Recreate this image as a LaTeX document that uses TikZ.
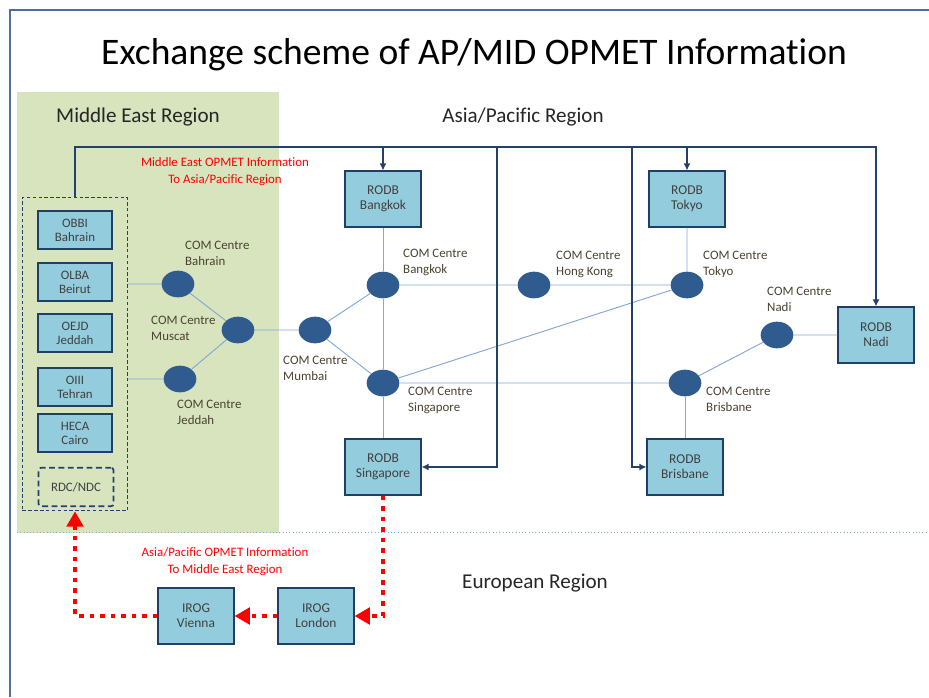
\documentclass[tikz,border=0pt]{standalone}
\usepackage{fontspec}
\setmainfont{Carlito}[Ligatures=NoCommon]
\usetikzlibrary{arrows.meta, positioning, shapes.geometric}

\definecolor{megreen}{HTML}{D7E4BD}
\definecolor{boxfill}{HTML}{93CDDD}
\definecolor{boxline}{HTML}{1F3F66}
\definecolor{comfill}{HTML}{305B8E}
\definecolor{thinline}{HTML}{84A7D4}
\definecolor{busline}{HTML}{24416A}
\definecolor{frameline}{HTML}{4F6F9B}
\definecolor{labeltext}{HTML}{4A4332}

\begin{document}
\begin{tikzpicture}[x=0.03cm, y=-0.03cm, every node/.style={inner sep=0pt},
    rodb/.style={rectangle, draw=boxline, line width=1.5pt, fill=boxfill, minimum width=2.26cm, minimum height=1.66cm, align=center, text=black!75, font=\fontsize{11.5}{13}\selectfont},
    station/.style={rodb, minimum width=2.23cm, minimum height=1.15cm, font=\fontsize{11}{12}\selectfont},
    com/.style={ellipse, fill=comfill, minimum width=0.98cm, minimum height=0.8cm},
    comlabel/.style={anchor=north west, align=left, text=labeltext, font=\fontsize{11}{13.6}\selectfont},
    redlabel/.style={align=center, text=red, font=\fontsize{11}{14.5}\selectfont},
    region/.style={text=black!85, font=\fontsize{18}{21}\selectfont},
    link/.style={draw=thinline, line width=0.8pt},
    bus/.style={draw=busline, line width=2.2pt, -{Latex[length=6pt,width=6pt]}},
    redflow/.style={draw=red, line width=4pt, dash pattern=on 4pt off 5pt, -{Triangle[length=13pt,width=14pt]}}]
    \useasboundingbox (0,0) rectangle (929,697);
    \fill[megreen] (17,92) rectangle (279,533);
    \draw[frameline, line width=1.6pt] (10,697) -- (10,10) -- (929,10);
    \draw[thinline, dotted, line width=0.8pt] (17,532) -- (929,532);
    \node[font=\fontsize{32}{38}\selectfont] (title) at (474,55) {Exchange scheme of AP/MID OPMET Information};
    \node[region] (mer) at (138,117) {Middle East Region};
    \node[region] (apr) at (523,117) {Asia/Pacific Region};
    \node[region] (eur) at (535,583) {European Region};
    \node[redlabel] (meinfo) at (225,172) {Middle East OPMET Information\\To Asia/Pacific Region};
    \node[redlabel] (apinfo) at (225,562) {Asia/Pacific OPMET Information\\To Middle East Region};
    \node[draw=busline, line width=1.2pt, dash pattern=on 3pt off 2pt, minimum width=3.15cm, minimum height=9.4cm] (me) at (75,354) {};
    \node[station] (obbi) at (75,230) {OBBI\\Bahrain};
    \node[station] (olba) at (75,282) {OLBA\\Beirut};
    \node[station] (oejd) at (75,333) {OEJD\\Jeddah};
    \node[station] (oiii) at (75,387) {OIII\\Tehran};
    \node[station] (heca) at (75,433) {HECA\\Cairo};
    \node[draw=busline, line width=1.5pt, dash pattern=on 5pt off 3pt, rounded corners=2pt, minimum width=2.25cm, minimum height=1.15cm, text=black!75, font=\fontsize{11}{12}\selectfont] (rdc) at (76,487) {RDC/NDC};
    \node[rodb] (rBKK) at (383,199) {RODB\\Bangkok};
    \node[rodb] (rTYO) at (687,199) {RODB\\Tokyo};
    \node[rodb] (rNAN) at (876,335) {RODB\\Nadi};
    \node[rodb] (rSIN) at (383,467) {RODB\\Singapore};
    \node[rodb] (rBNE) at (685,467) {RODB\\Brisbane};
    \node[rodb] (iVIE) at (196,616) {IROG\\Vienna};
    \node[rodb] (iLON) at (316,616) {IROG\\London};
    \node[com] (cBAH) at (178,284) {};
    \node[com] (cMCT) at (238,330) {};
    \node[com] (cJED) at (180,379) {};
    \node[com] (cBOM) at (315,330) {};
    \node[com] (cBKK) at (383,285) {};
    \node[com] (cSIN) at (383,383) {};
    \node[com] (cHKG) at (534,285) {};
    \node[com] (cTYO) at (687,285) {};
    \node[com] (cBNE) at (685,383) {};
    \node[com] (cNAN) at (777,335) {};
    \node[comlabel] (lBAH) at (185,241) {COM Centre\\Bahrain};
    \node[comlabel] (lMCT) at (151,316) {COM Centre\\Muscat};
    \node[comlabel] (lJED) at (177,400) {COM Centre\\Jeddah};
    \node[comlabel] (lBOM) at (283,356) {COM Centre\\Mumbai};
    \node[comlabel] (lBKK) at (403,249) {COM Centre\\Bangkok};
    \node[comlabel] (lHKG) at (556,251) {COM Centre\\Hong Kong};
    \node[comlabel] (lTYO) at (703,251) {COM Centre\\Tokyo};
    \node[comlabel] (lNAN) at (767,287) {COM Centre\\Nadi};
    \node[comlabel] (lSIN) at (408,387) {COM Centre\\Singapore};
    \node[comlabel] (lBNE) at (706,387) {COM Centre\\Brisbane};
    \draw[link] (cBAH -| me.east) -- (cBAH) -- (cMCT) -- (cJED) -- (cJED -| me.east);
    \draw[link] (cMCT) -- (cBOM) -- (cBKK) -- (cHKG) -- (cTYO) -- (rTYO);
    \draw[link] (cBOM) -- (cSIN) -- (cBNE) -- (cNAN) -- (rNAN);
    \draw[link] (rBKK) -- (cBKK) -- (cSIN) -- (rSIN);
    \draw[link] (cSIN) -- (cTYO);
    \draw[link] (cBNE) -- (rBNE);
    \coordinate (busA) at (497,147);
    \coordinate (busB) at (632,147);
    \draw[bus] (me.north) |- (busA) -| (rNAN.north);
    \draw[bus] (rBKK.north |- busA) -- (rBKK.north);
    \draw[bus] (rTYO.north |- busA) -- (rTYO.north);
    \draw[bus] (busA) |- (rSIN.east);
    \draw[bus] (busB) |- (rBNE.west);
    \draw[redflow] (rSIN.south) |- (iLON.east);
    \draw[redflow] (iLON) -- (iVIE);
    \draw[redflow] (iVIE.west) -| (me.south);
\end{tikzpicture}
\end{document}
